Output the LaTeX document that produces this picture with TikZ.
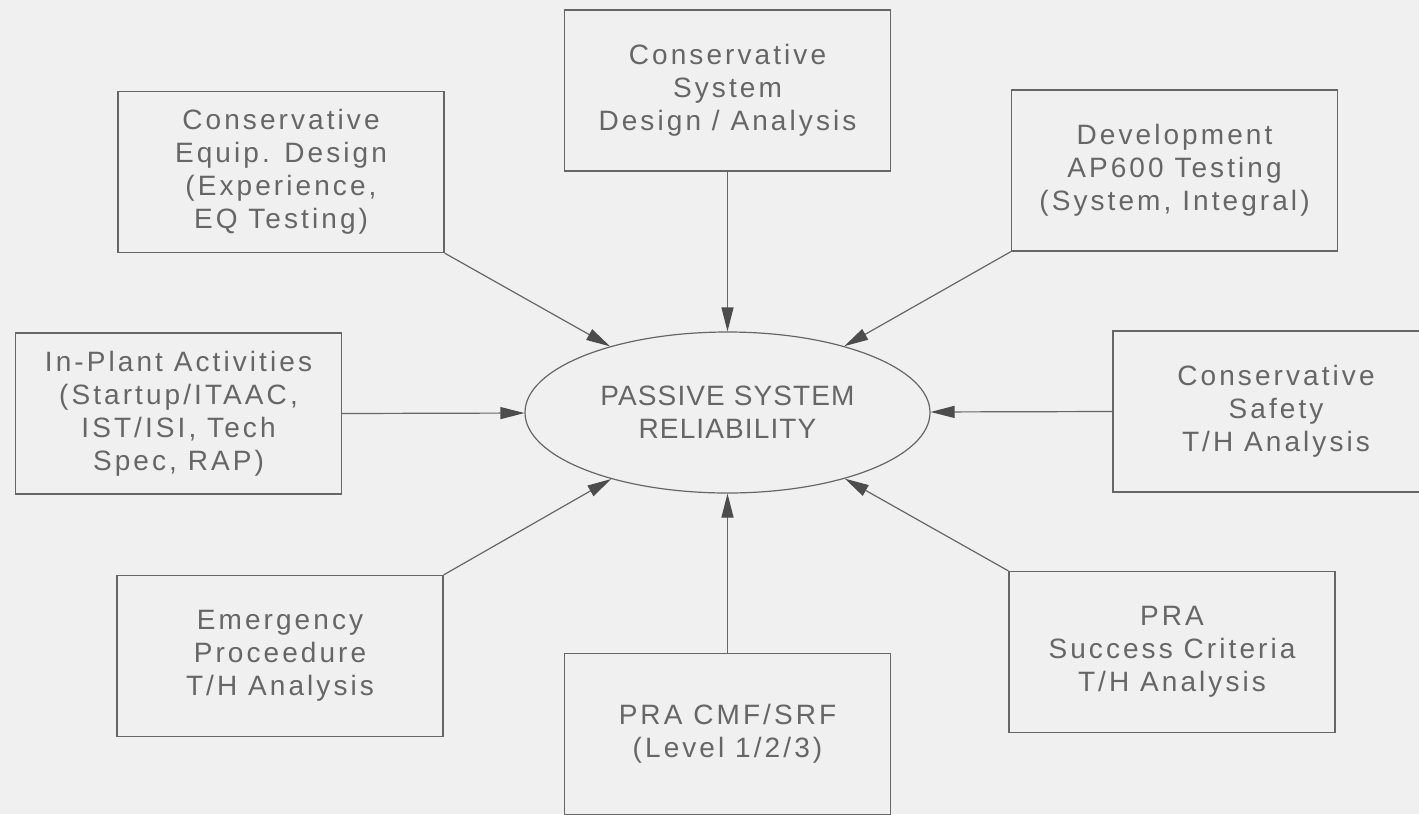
\documentclass[tikz,border=0pt]{standalone}
\usepackage{fontspec}
\setmainfont[LetterSpace=11]{Liberation Sans}
\usetikzlibrary{shapes.geometric,arrows.meta}

\definecolor{paper}{gray}{0.94}
\definecolor{ink}{gray}{0.40}

\begin{document}
\begin{tikzpicture}[x=0.5pt,y=-0.5pt,>={Triangle[length=12pt,width=6pt,color=black!70]},line width=.6pt,
box/.style={rectangle, draw=ink, fill=paper, minimum width=163pt, minimum height=80.5pt,
  inner sep=0pt, align=center, text=ink, font=\fontsize{14}{16.5}\selectfont},
goal/.style={ellipse, draw=ink, fill=paper, minimum width=202.5pt, minimum height=80.5pt,
  inner sep=0pt, align=center, text=ink,
  font=\fontsize{14}{16.5}\selectfont\addfontfeatures{LetterSpace=4}}]
\fill[paper] (0,0) rectangle (1419,814);
\clip (0,0) rectangle (1419,814);

% centre
\node[goal] (rel) at (727.5,412.5) {PASSIVE SYSTEM\\RELIABILITY};

% inputs
\node[box] (equip)     at (281,172)    {Conservative\\Equip. Design\\(Experience,\\EQ Testing)};
\node[box] (sysdesign) at (727.5,90.5) {Conservative\\System\\Design / Analysis};
\node[box] (devtest)   at (1174.5,170.5) {Development\\AP600 Testing\\(System, Integral)};
\node[box] (inplant)   at (178.5,413.5) {In-Plant Activities\\(Startup/ITAAC,\\IST/ISI, Tech\\Spec, RAP)};
\node[box] (safety)    at (1276,411.5) {Conservative\\Safety\\T/H Analysis};
\node[box] (emerg)     at (280,656)    {Emergency\\Proceedure\\T/H Analysis};
\node[box] (cmf)       at (727.5,734)  {PRA CMF/SRF\\(Level 1/2/3)};
\node[box] (success)   at (1172,652)   {PRA\\Success Criteria\\T/H Analysis};

\draw[draw=ink,->] (equip.south east) -- (rel);
\draw[draw=ink,->] (sysdesign.south) -- (rel);
\draw[draw=ink,->] (devtest.south west) -- (rel);
\draw[draw=ink,->] (inplant.east) -- (rel);
\draw[draw=ink,->] (safety.west) -- (rel);
\draw[draw=ink,->] (emerg.north east) -- (rel);
\draw[draw=ink,->] (cmf.north) -- (rel);
\draw[draw=ink,->] (success.north west) -- (rel);

\end{tikzpicture}
\end{document}
